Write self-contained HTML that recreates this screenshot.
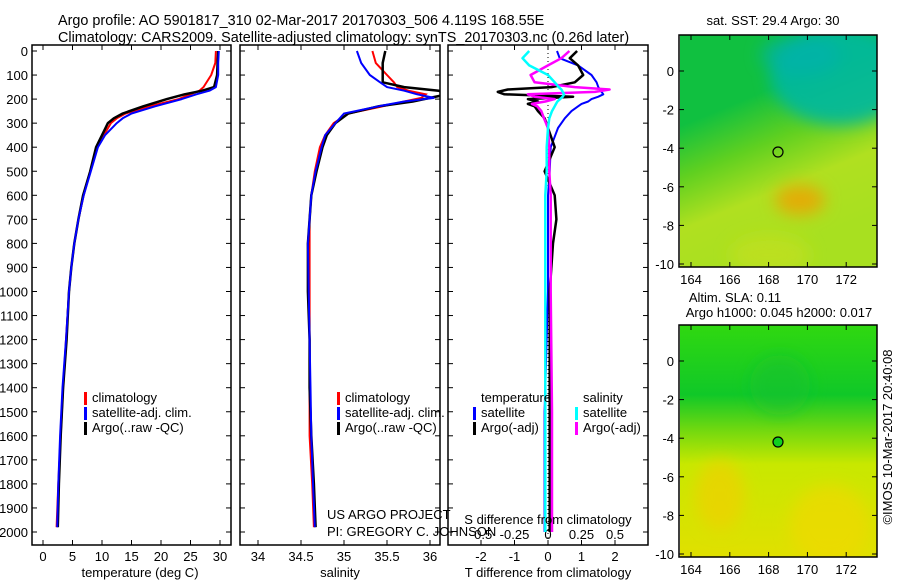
<!DOCTYPE html>
<html><head><meta charset="utf-8"><style>
body{margin:0;background:#fff}
svg{display:block;font-family:"Liberation Sans",sans-serif}
text{font-size:13px;fill:#000}
</style></head><body>
<svg id="c" width="900" height="580" viewBox="0 0 900 580">
<defs>
<linearGradient id="sstG" x1="0" y1="0" x2="0.35" y2="1">
<stop offset="0" stop-color="#10c040"/><stop offset="0.35" stop-color="#10c040"/><stop offset="0.55" stop-color="#60d020"/><stop offset="0.75" stop-color="#b0e020"/><stop offset="1" stop-color="#a8e020"/></linearGradient>
<linearGradient id="slaG" x1="0" y1="0" x2="0" y2="1">
<stop offset="0" stop-color="#30d810"/><stop offset="0.3" stop-color="#10c828"/><stop offset="0.45" stop-color="#70d810"/><stop offset="0.6" stop-color="#c8e800"/><stop offset="1" stop-color="#e0e000"/></linearGradient>
<filter id="bl"><feGaussianBlur stdDeviation="8"/></filter>
<clipPath id="cm1"><rect x="680" y="35" width="197" height="232"/></clipPath>
<clipPath id="cm2"><rect x="680" y="325" width="197" height="232"/></clipPath>
</defs>
<text x="58" y="25" style="font-size:14.4px">Argo profile: AO 5901817_310 02-Mar-2017 20170303_506 4.119S 168.55E</text>
<text x="58" y="42" style="font-size:14.4px">Climatology: CARS2009. Satellite-adjusted climatology: synTS_20170303.nc (0.26d later)</text>
<g id="maps"></g>
<g id="plots"></g>
</svg>
<script>
// depth levels (m) shared by profile series
const depthsT = [0,50,100,150,165,180,200,230,260,280,300,350,400,500,600,700,800,900,1000,1200,1400,1600,1800,1980];
const tempArgo = [29.7,29.6,29.5,29.0,27.0,24.0,21.0,17.0,13.5,12.0,11.0,10.0,9.0,8.0,6.8,6.0,5.3,4.8,4.4,4.0,3.4,3.0,2.7,2.5];
const tempClim = [29.3,29.2,28.5,27.2,26.5,25.0,23.0,18.0,14.0,12.5,11.5,10.3,9.2,8.0,6.9,6.0,5.3,4.8,4.4,3.9,3.4,3.0,2.6,2.3];
const tempSat  = [29.8,29.7,29.7,29.3,28.2,26.0,23.5,19.0,15.0,13.5,12.5,10.5,9.3,8.1,6.9,6.0,5.3,4.8,4.4,3.9,3.3,2.9,2.6,2.4];
const depthsS = [0,50,100,130,150,165,180,195,210,230,260,300,350,400,500,600,700,800,1000,1200,1400,1600,1800,1980];
const salArgo = [35.48,35.45,35.45,35.45,35.7,36.1,36.2,36.0,35.8,35.4,35.05,34.9,34.8,34.75,34.68,34.62,34.6,34.58,34.58,34.6,34.6,34.62,34.65,34.67];
const salClim = [35.33,35.37,35.5,35.58,35.62,35.75,35.95,35.9,35.7,35.45,35.05,34.88,34.78,34.72,34.66,34.62,34.6,34.6,34.6,34.6,34.6,34.6,34.63,34.65];
const salSat  = [35.15,35.2,35.3,35.42,35.5,35.7,35.85,36.05,35.7,35.4,35.0,34.9,34.78,34.74,34.67,34.62,34.6,34.58,34.59,34.6,34.61,34.62,34.64,34.66];
const depthsD = [0,30,60,100,130,150,160,170,180,190,200,210,220,230,250,280,320,400,500,600,700,800,1000,1500,2000];
const dTsat   = [0.27,0.35,0.9,1.3,1.45,1.5,1.55,1.6,1.65,1.5,1.3,1.2,1.0,0.9,0.7,0.5,0.3,0.08,0.05,0.0,0.0,0.0,0.0,-0.1,-0.1];
const dTargo  = [0.87,0.65,0.9,1.05,0.8,0.1,-1.2,-1.5,-1.3,0.75,-0.6,-0.3,-0.6,-0.4,-0.3,-0.1,0.0,0.2,-0.1,0.2,0.25,0.15,0.05,0.05,0.05];
const dSsat   = [-0.14,-0.19,-0.14,0.0,0.05,0.08,0.1,0.11,0.12,0.11,0.09,0.07,0.06,0.05,0.03,0.01,0.0,-0.01,-0.01,-0.02,-0.02,-0.02,-0.02,-0.02,-0.02];
const dSargo  = [0.16,0.1,0.0,-0.13,-0.1,0.2,0.46,0.35,-0.15,-0.1,0.05,-0.02,-0.12,-0.08,-0.05,-0.03,0.0,0.01,0.01,0.02,0.02,0.02,0.02,0.03,0.03];
const depthTicks = [0,100,200,300,400,500,600,700,800,900,1000,1100,1200,1300,1400,1500,1600,1700,1800,1900,2000];
const tempTicks = [0,5,10,15,20,25,30];
const salTicks = [34,34.5,35,35.5,36];
const dTTicks = [-2,-1,0,1,2];
const dSTicks = [-0.5,-0.25,0,0.25,0.5];
const latTicks = [0,-2,-4,-6,-8,-10];
const lonTicks = [164,166,168,170,172];

const NS='http://www.w3.org/2000/svg';
const svg=document.getElementById('c');
const plots=document.getElementById('plots');
function mk(tag,attrs,parent,txt){const e=document.createElementNS(NS,tag);for(const k in attrs)e.setAttribute(k,attrs[k]);if(txt!==undefined)e.textContent=txt;(parent||plots).appendChild(e);return e;}
const yD=d=>51+d*0.2405;
const xT=t=>43+t*5.9;
const xS=s=>258+(s-34)*86;
const xDT=v=>548+v*33.5;
const xDS=v=>548+v*134;
const PT=45,PB=545;

function frame(x0,x1,name){
  const r=mk('rect',{x:x0,y:PT,width:x1-x0,height:PB-PT,fill:'none',stroke:'#000','stroke-width':1.5});
  
  
}
function line(xs,ds,fx,col,w,name){
  const p=xs.map((v,i)=>fx(v).toFixed(1)+','+yD(ds[i]).toFixed(1)).join(' ');
  const e=mk('polyline',{points:p,fill:'none',stroke:col,'stroke-width':w,'stroke-linejoin':'round'});
  
  
}
function xTicks(ticks,fx,y,lbl){
  ticks.forEach(t=>{const x=fx(t);
    mk('line',{x1:x,x2:x,y1:PB,y2:PB-5,stroke:'#000'});
    mk('line',{x1:x,x2:x,y1:PT,y2:PT+5,stroke:'#000'});
    const e=mk('text',{x:x,y:y,'text-anchor':'middle'},plots,String(t));
    
    
  });
}
function depthSideTicks(x0,x1){
  depthTicks.forEach(d=>{const y=yD(d);
    mk('line',{x1:x0,x2:x0+5,y1:y,y2:y,stroke:'#000'});
    mk('line',{x1:x1,x2:x1-5,y1:y,y2:y,stroke:'#000'});});
}
function legend(x,y,items){
  items.forEach((it,i)=>{
    mk('rect',{x:x,y:y+i*15-10,width:3,height:13,fill:it[1]});
    const e=mk('text',{x:x+8,y:y+i*15},plots,it[0]);
    
    
  });
}
// panel 1
frame(32,231,'temperature-panel');
depthSideTicks(32,231);
depthTicks.forEach(d=>{const e=mk('text',{x:28,y:yD(d)+5,'text-anchor':'end'},plots,String(d));
  
  });
xTicks(tempTicks,xT,561,'temp-tick-label');
line(tempClim,depthsT,xT,'#f00',2,'temp-climatology-line');
line(tempArgo,depthsT,xT,'#000',2.5,'temp-argo-line');
line(tempSat,depthsT,xT,'#00f',2,'temp-satellite-line');
mk('text',{x:140,y:577,'text-anchor':'middle'},plots,'temperature (deg C)');
legend(84,402,[['climatology','#f00'],['satellite-adj. clim.','#00f'],['Argo(..raw -QC)','#000']]);
// panel 2
frame(240,440,'salinity-panel');
depthSideTicks(240,440);
xTicks(salTicks,xS,561,'sal-tick-label');
const cp=mk('clipPath',{id:'cp2'});mk('rect',{x:240,y:PT,width:200,height:PB-PT},cp);
const g2=mk('g',{'clip-path':'url(#cp2)'});
[[salClim,'#f00',2,'sal-climatology-line'],[salArgo,'#000',2.5,'sal-argo-line'],[salSat,'#00f',2,'sal-satellite-line']].forEach(s=>{
  const p=s[0].map((v,i)=>xS(v).toFixed(1)+','+yD(depthsS[i]).toFixed(1)).join(' ');
  const e=mk('polyline',{points:p,fill:'none',stroke:s[1],'stroke-width':s[2]},g2);
  
  
});
mk('text',{x:340,y:577,'text-anchor':'middle'},plots,'salinity');
legend(337,402,[['climatology','#f00'],['satellite-adj. clim.','#00f'],['Argo(..raw -QC)','#000']]);
mk('text',{x:327,y:519},plots,'US ARGO PROJECT');
mk('text',{x:327,y:536},plots,'PI: GREGORY C. JOHNSON');
// panel 3
frame(448,648,'difference-panel');
depthSideTicks(448,648);
mk('line',{x1:548,x2:548,y1:PT,y2:PB,stroke:'#000','stroke-dasharray':'1,3'});
xTicks(dTTicks,xDT,561,'tdiff-tick-label');
dSTicks.forEach(t=>{const e=mk('text',{x:xDS(t),y:539,'text-anchor':'middle'},plots,String(t));
  
  });
line(dTsat,depthsD,xDT,'#00f',2,'tdiff-satellite-line');
line(dTargo,depthsD,xDT,'#000',2.5,'tdiff-argo-line');
line(dSargo,depthsD,xDS,'#f0f',2.5,'sdiff-argo-line');
line(dSsat,depthsD,xDS,'#0ff',2.5,'sdiff-satellite-line');
mk('text',{x:548,y:524,'text-anchor':'middle'},plots,'S difference from climatology');
mk('text',{x:548,y:577,'text-anchor':'middle'},plots,'T difference from climatology');
mk('text',{x:481,y:402},plots,'temperature');
mk('text',{x:583,y:402},plots,'salinity');
legend(473,417,[['satellite','#00f'],['Argo(-adj)','#000']]);
legend(575,417,[['satellite','#0ff'],['Argo(-adj)','#f0f']]);

// maps
const maps=document.getElementById('maps');
function map(y0,fillId,clip,blobs,circFill,name){
  const g=mk('g',{'clip-path':'url('+clip+')'},maps);
  
  
  mk('rect',{x:680,y:y0,width:197,height:232,fill:'url(#'+fillId+')'},g);
  const gb=mk('g',{filter:'url(#bl)'},g);
  blobs.forEach(b=>mk('ellipse',{cx:b[0],cy:y0+b[1],rx:b[2],ry:b[3],fill:b[4],opacity:b[5]},gb));
  mk('rect',{x:679,y:y0,width:198,height:232,fill:'none',stroke:'#000','stroke-width':1.5},maps);
  latTicks.forEach((l,i)=>{const y=y0+36-l*19.3;
    mk('line',{x1:679,x2:684,y1:y,y2:y,stroke:'#000'},maps);
    mk('line',{x1:877,x2:872,y1:y,y2:y,stroke:'#000'},maps);
    mk('text',{x:674,y:y+5,'text-anchor':'end'},maps,String(l));});
  lonTicks.forEach(l=>{const x=691+(l-164)*19.4;
    mk('line',{x1:x,x2:x,y1:y0+232,y2:y0+227,stroke:'#000'},maps);
    mk('line',{x1:x,x2:x,y1:y0,y2:y0+5,stroke:'#000'},maps);
    mk('text',{x:x,y:y0+249,'text-anchor':'middle'},maps,String(l));});
  const c=mk('circle',{cx:778,cy:y0+117,r:5,fill:circFill,stroke:'#000','stroke-width':1.2},maps);
  
  
}
map(35,'sstG','#cm1',[[840,40,70,50,'#00b8a0',0.9],[800,20,40,20,'#00b0b0',0.6],[800,165,25,15,'#f0a000',0.8],[770,220,40,20,'#c8e020',0.6]],'none','sst-map');
map(325,'slaG','#cm2',[[720,170,25,35,'#f0d000',0.7],[830,200,40,40,'#f0d800',0.7],[780,60,30,30,'#10c030',0.5]],'#10d020','sla-map');
mk('text',{x:773,y:25,'text-anchor':'middle'},maps,'sat. SST: 29.4 Argo: 30');
mk('text',{x:735,y:302,'text-anchor':'middle'},maps,'Altim. SLA: 0.11');
mk('text',{x:779,y:317,'text-anchor':'middle'},maps,'Argo h1000: 0.045 h2000: 0.017');
const cr=mk('text',{x:0,y:0,'text-anchor':'middle',transform:'translate(892,437) rotate(-90)'},maps,'©IMOS 10-Mar-2017 20:40:08');


</script>
</body></html>
